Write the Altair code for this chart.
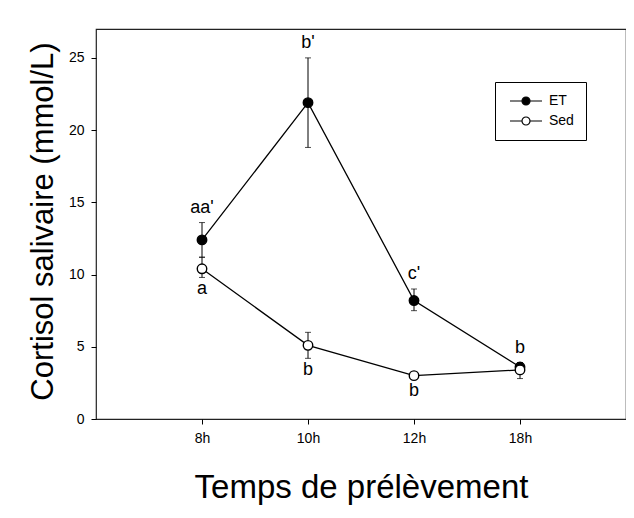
import altair as alt
import pandas as pd

times = ["8h", "10h", "12h", "18h"]
series_names = ["ET", "Sed"]
et_mean = [12.4, 21.9, 8.2, 3.6]
et_hi = [13.6, 25.0, 9.0, 3.9]
et_lo = [11.2, 18.8, 7.5, 3.3]
sed_mean = [10.4, 5.1, 3.0, 3.4]
sed_hi = [11.2, 6.0, 3.2, 3.9]
sed_lo = [9.8, 4.2, 2.8, 2.8]
et_letters = ["aa'", "b'", "c'", "b"]
sed_letters = ["a", "b", "b", ""]

rows = []
for s, means, his, los, letters in [
    ("ET", et_mean, et_hi, et_lo, et_letters),
    ("Sed", sed_mean, sed_hi, sed_lo, sed_letters),
]:
    for t, m, h, l, lab in zip(times, means, his, los, letters):
        rows.append({"series": s, "time": t, "mean": m, "hi": h, "lo": l, "letter": lab})
df = pd.DataFrame(rows)

FONT = "Liberation Sans"

x_enc = alt.X(
    "time:N",
    sort=times,
    scale=alt.Scale(type="point", padding=1),
    axis=alt.Axis(
        title="Temps de prélèvement",
        labelAngle=0,
        labelFontSize=14,
        labelColor="black",
        labelPadding=7,
        tickSize=5,
        tickColor="black",
        domain=False,
        titleFontSize=33,
        titleFontWeight="normal",
        titleColor="black",
        titleY=78,
        titleBaseline="alphabetic",
    ),
)
y_scale = alt.Scale(domain=[0, 27], nice=False, zero=True)
y_enc = alt.Y(
    "mean:Q",
    scale=y_scale,
    axis=alt.Axis(
        title="Cortisol salivaire (mmol/L)",
        values=[0, 5, 10, 15, 20, 25],
        grid=False,
        labelFontSize=14,
        labelColor="black",
        labelPadding=7,
        tickSize=5,
        tickColor="black",
        domain=False,
        titleFontSize=31,
        titleFontWeight="normal",
        titleColor="black",
        titleAngle=270,
        titleX=-44,
        titleY=192,
        titleBaseline="alphabetic",
        titleAlign="center",
    ),
)

base = alt.Chart(df)

lines = base.mark_line(color="black", strokeWidth=1.3).encode(
    x=x_enc, y=y_enc, detail="series:N"
)

bars = base.mark_rule(color="black", strokeWidth=1).encode(
    x=alt.X("time:N", sort=times), y=alt.Y("lo:Q", scale=y_scale), y2="hi:Q"
)
caps_hi = base.mark_tick(color="black", orient="horizontal", size=6, thickness=1).encode(
    x=alt.X("time:N", sort=times), y=alt.Y("hi:Q", scale=y_scale)
)
caps_lo = base.mark_tick(color="black", orient="horizontal", size=6, thickness=1).encode(
    x=alt.X("time:N", sort=times), y=alt.Y("lo:Q", scale=y_scale)
)

legend_symbol = "M-4,0L-1,0M1,0L4,0M-1,0A1,1,0,1,1,1,0A1,1,0,1,1,-1,0Z"

points = base.mark_point(
    filled=True, shape="circle", size=90, stroke="black", strokeWidth=1.4, opacity=1
).encode(
    x=alt.X("time:N", sort=times),
    y=alt.Y("mean:Q", scale=y_scale),
    fill=alt.Fill(
        "series:N",
        scale=alt.Scale(domain=series_names, range=["black", "white"]),
        legend=alt.Legend(
            title=None,
            orient="none",
            legendX=399,
            legendY=53,
            symbolType=legend_symbol,
            symbolSize=64,
            symbolOffset=12,
            symbolStrokeColor="black",
            symbolStrokeWidth=1.2,
            labelFontSize=14,
            labelColor="black",
            labelOffset=16,
            padding=12,
            rowPadding=6,
            strokeColor="black",
            fillColor="white",
        ),
    ),
)

et_text = base.transform_filter(alt.datum.series == "ET").mark_text(
    fontSize=18, baseline="bottom", dy=-6, color="black"
).encode(x=alt.X("time:N", sort=times), y=alt.Y("hi:Q", scale=y_scale), text="letter:N")

sed_text = base.transform_filter(alt.datum.series == "Sed").mark_text(
    fontSize=18, baseline="top", dy=3, color="black"
).encode(x=alt.X("time:N", sort=times), y=alt.Y("lo:Q", scale=y_scale), text="letter:N")

chart = (
    alt.layer(lines, bars, caps_hi, caps_lo, points, et_text, sed_text)
    .properties(
        width=530,
        height=390,
        autosize=alt.AutoSizeParams(type="none"),
        padding={"left": 88, "top": 21, "right": 0, "bottom": 91},
    )
    .configure(font=FONT)
    .configure_view(stroke="#222", strokeWidth=1.2)
)

chart.save("out.html", embed_options={"renderer": "svg", "actions": False})
